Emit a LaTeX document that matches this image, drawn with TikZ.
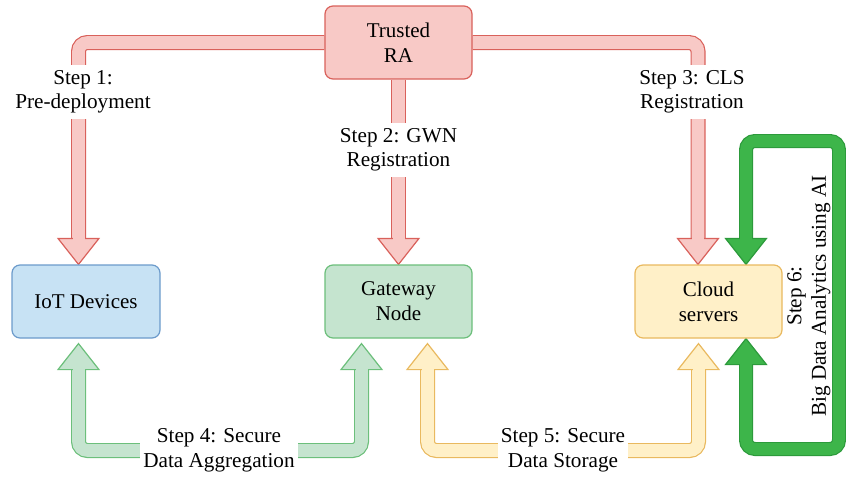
\documentclass[tikz,border=0pt]{standalone}
\usepackage{fontspec}
\setmainfont{Liberation Serif}
\usetikzlibrary{calc}
\definecolor{redF}{HTML}{F8C9C6}
\definecolor{redS}{HTML}{D9615B}
\definecolor{blueF}{HTML}{C7E2F4}
\definecolor{blueS}{HTML}{6C9BCB}
\definecolor{lgF}{HTML}{C5E4CF}
\definecolor{lgS}{HTML}{6CBF7B}
\definecolor{yF}{HTML}{FFF0C8}
\definecolor{yS}{HTML}{E9B95F}
\definecolor{dgF}{HTML}{3DB54A}
\definecolor{dgS}{HTML}{2C9A3B}
\newcommand\boxfont{\fontsize{21}{25}\selectfont}
\newcommand\lblfont{\fontsize{21.2}{24.5}\selectfont}
\pgfdeclarelayer{bg}
\pgfsetlayers{bg,main}
\tikzset{
 box/.style={rounded corners=8pt, line width=1.2pt, minimum width=147pt, minimum height=73pt, align=center, font=\boxfont, inner sep=2pt},
 lbl/.style={fill=white, align=center, font=\lblfont, inner xsep=3pt, inner ysep=5pt},
}
% fill, stroke, outer width, inner width, path
\newcommand\fshaft[5]{%
 \draw[#2, line width=#3, rounded corners=9pt] #5;
 \draw[#1, line width=#4, rounded corners=9pt] #5;}
% fill, stroke, tip coordinate, rotation
\newcommand\fhead[4]{%
 \begin{scope}[shift={(#3)}, rotate=#4]
 \filldraw[fill=#1, draw=#2, line width=1.2pt, line join=miter] (0pt,0pt) -- (-26pt,20.5pt) -- (-26pt,-20.5pt) -- cycle;
 \fill[#1] (-27.5pt,-6pt) rectangle (-24pt,6pt);
 \end{scope}}
\begin{document}
\begin{tikzpicture}[x=1pt,y=-1pt]
\useasboundingbox (0,0) rectangle (846,477);
% boxes
\node[box, fill=redF, draw=redS] (RA) at (398.5,42.5) {Trusted\\RA};
\node[box, fill=blueF, draw=blueS, minimum width=148pt] (IoT) at (86,301.5) {IoT Devices};
\node[box, fill=lgF, draw=lgS] (GW) at (398.5,301.5) {Gateway\\Node};
\node[box, fill=yF, draw=yS] (CL) at (708.5,301.5) {Cloud\\servers};
% arrow tips and head bases
\coordinate (t1) at ([xshift=-7.5pt]IoT.north);
\coordinate (h1) at ([yshift=26pt]t1);
\coordinate (t2) at (GW.north);
\coordinate (h2) at ([yshift=26pt]t2);
\coordinate (t3) at ([xshift=-10.5pt]CL.north);
\coordinate (h3) at ([yshift=26pt]t3);
\coordinate (t4a) at ([xshift=-7.5pt,yshift=-5pt]IoT.south);
\coordinate (h4a) at ([yshift=-26pt]t4a);
\coordinate (t4b) at ([xshift=-37pt,yshift=-5pt]GW.south);
\coordinate (h4b) at ([yshift=-26pt]t4b);
\coordinate (t5a) at ([xshift=29pt,yshift=-5pt]GW.south);
\coordinate (h5a) at ([yshift=-26pt]t5a);
\coordinate (t5b) at ([xshift=-10pt,yshift=-5pt]CL.south);
\coordinate (h5b) at ([yshift=-26pt]t5b);
\coordinate (t6a) at ([xshift=37.5pt]CL.north);
\coordinate (h6a) at ([yshift=26pt]t6a);
\coordinate (t6b) at ([xshift=37.5pt]CL.south);
\coordinate (h6b) at ([yshift=-26pt]t6b);
\coordinate (c4) at (219,450.5);
\coordinate (c5) at (563,450.5);
\coordinate (c6a) at (839,141);
\coordinate (c6b) at (839,449);
\begin{pgfonlayer}{bg}
\fshaft{redF}{redS}{15pt}{12.6pt}{(RA.west) -| (h1)}
\fshaft{redF}{redS}{15pt}{12.6pt}{(RA.south) -- (h2)}
\fshaft{redF}{redS}{15pt}{12.6pt}{(RA.east) -| (h3)}
\fshaft{lgF}{lgS}{15pt}{12.6pt}{(h4a) |- (c4) -| (h4b)}
\fshaft{yF}{yS}{15pt}{12.6pt}{(h5a) |- (c5) -| (h5b)}
\fshaft{dgF}{dgS}{14pt}{11.6pt}{(h6a) |- (c6a) -- (c6b) -| (h6b)}
\fhead{redF}{redS}{t1}{-90}
\fhead{redF}{redS}{t2}{-90}
\fhead{redF}{redS}{t3}{-90}
\fhead{lgF}{lgS}{t4a}{90}
\fhead{lgF}{lgS}{t4b}{90}
\fhead{yF}{yS}{t5a}{90}
\fhead{yF}{yS}{t5b}{90}
\fhead{dgF}{dgS}{t6a}{-90}
\fhead{dgF}{dgS}{t6b}{90}
\end{pgfonlayer}
% labels
\node[lbl] (L1) at (83,92) {Step 1:\\Pre-deployment};
\node[lbl] (L2) at (398.5,150) {Step 2: GWN\\Registration};
\node[lbl] (L3) at (692,92) {Step 3: CLS\\Registration};
\node[lbl] (L4) at (c4) {Step 4: Secure\\Data Aggregation};
\node[lbl] (L5) at (c5) {Step 5: Secure\\Data Storage};
\node[align=center, font=\lblfont, rotate=90] (L6) at (809,296) {Step 6:\\Big Data Analytics using AI};
\end{tikzpicture}
\end{document}
